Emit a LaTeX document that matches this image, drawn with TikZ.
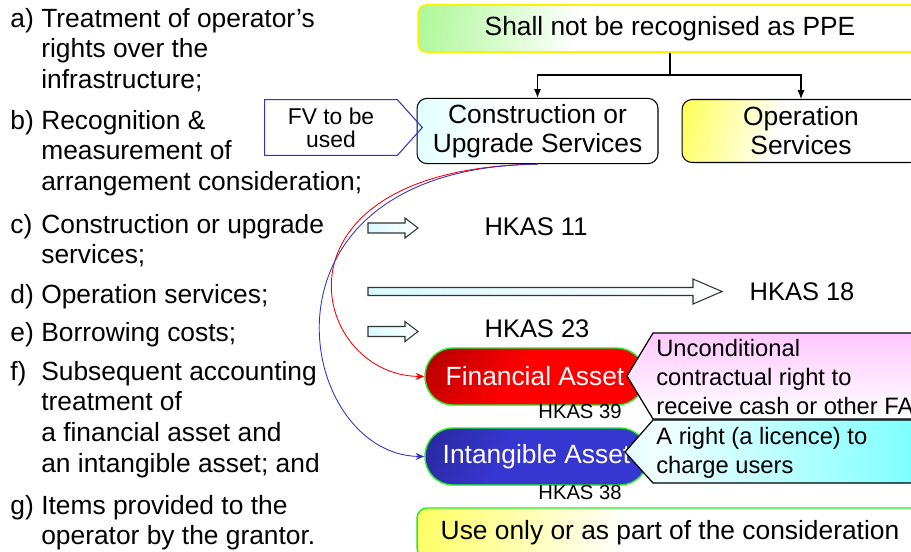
\documentclass[tikz,border=0pt]{standalone}
\usepackage{fontspec}
\setmainfont{Liberation Sans}
\usetikzlibrary{arrows.meta,calc}

\definecolor{ppegreen}{HTML}{4CEE1C}
\definecolor{limeg}{HTML}{22EE22}
\definecolor{fvblue}{HTML}{3333CC}
\definecolor{navyb}{HTML}{1E1E78}
\definecolor{brightb}{HTML}{3636D0}
\definecolor{darkr}{HTML}{8A0000}
\definecolor{pinkc}{HTML}{FFC8FF}
\definecolor{arrcyan}{HTML}{D8FAFF}

% shadings for the boxes
\pgfdeclarehorizontalshading{ppeshade}{100bp}{color(0bp)=(ppegreen); color(12bp)=(ppegreen!70); color(40bp)=(white); color(100bp)=(white)}
\pgfdeclarehorizontalshading{yelshade}{100bp}{color(0bp)=(yellow); color(12bp)=(yellow!85); color(45bp)=(white); color(80bp)=(white); color(100bp)=(yellow)}
\pgfdeclarehorizontalshading{cyanshade}{100bp}{color(0bp)=(cyan!25); color(40bp)=(white); color(80bp)=(white); color(100bp)=(cyan!25)}
\pgfdeclarehorizontalshading{finshade}{100bp}{color(0bp)=(darkr); color(45bp)=(red); color(85bp)=(red); color(100bp)=(darkr)}
\pgfdeclarehorizontalshading{intshade}{100bp}{color(0bp)=(navyb); color(40bp)=(brightb); color(85bp)=(brightb); color(100bp)=(navyb)}
\pgfdeclarehorizontalshading{licshade}{100bp}{color(0bp)=(cyan!30); color(30bp)=(cyan!6); color(100bp)=(cyan!85)}

\newcommand{\listitem}[2]{\begin{tabular}[t]{@{}p{0.62cm}@{}l@{}}#1 & #2\end{tabular}}

\tikzset{
  item/.style={anchor=base west, inner sep=0pt, font=\fontsize{15}{17.6}\selectfont},
  box/.style={draw, line width=0.6pt, rounded corners=0.2cm, align=center, font=\fontsize{15}{16.5}\selectfont},
  pill/.style={draw=limeg, line width=0.8pt, rounded corners=0.56cm, text=white, minimum height=1.14cm, font=\fontsize{15}{16.5}\selectfont},
  callout/.style={draw, line width=0.7pt},
  calltext/.style={anchor=west, align=left, inner sep=0pt, font=\fontsize{13.5}{16.5}\selectfont},
  blockarr/.style={draw=black!80, line width=0.6pt, left color=arrcyan, right color=white},
  hkas/.style={inner sep=0pt, font=\fontsize{14.5}{16}\selectfont},
  hkassmall/.style={inner sep=0pt, font=\fontsize{11.5}{13}\selectfont},
  tree/.style={line width=0.6pt, -{Latex[length=5pt,width=4pt]}},
  link/.style={line width=0.5pt, -{Stealth[length=5pt,width=4pt]}},
}

\begin{document}
\begin{tikzpicture}[x=0.02cm,y=-0.02cm]
\useasboundingbox (0,0) rectangle (911,551);
\clip (0,0) rectangle (911,551);

% List of items
\node[item] (ia) at (10,27) {\listitem{a)}{Treatment of operator’s\\ & rights over the\\ & infrastructure;}};
\node[item] (ib) at (10,129) {\listitem{b)}{Recognition \&\\ & measurement of\\ & arrangement consideration;}};
\node[item] (ic) at (10,233) {\listitem{c)}{Construction or upgrade\\ & services;}};
\node[item] (id) at (10,303) {\listitem{d)}{Operation services;}};
\node[item] (ie) at (10,341) {\listitem{e)}{Borrowing costs;}};
\node[item] (if) at (10,380) {\listitem{f)}{Subsequent accounting\\ & treatment of\\ & a financial asset and\\ & an intangible asset; and}};
\node[item] (ig) at (10,514) {\listitem{g)}{Items provided to the\\ & operator by the grantor.}};

% Top of the tree
\node[box, draw=yellow, line width=0.9pt, rounded corners=0.16cm, shading=ppeshade, shading angle=-8, minimum width=10.08cm, minimum height=0.94cm] (ppe) at (670,28.5) {Shall not be recognised as PPE};
\node[box, shading=cyanshade, shading angle=-10, minimum width=4.82cm, minimum height=1.28cm] (cons) at (537.5,131) {Construction or\\Upgrade Services};
\node[box, shading=yelshade, shading angle=-15, minimum width=4.76cm, minimum height=1.26cm] (ops) at (801,131) {Operation\\Services};

\coordinate (split) at (670,75);
\draw[line width=0.6pt] (ppe.south) -- (split);
\draw[tree] (split) -| (cons.north);
\draw[tree] (split) -| (ops.north);

% FV callout
\node[inner sep=0pt, minimum width=2.64cm, minimum height=1.1cm, align=center, font=\fontsize{13}{13}\selectfont] (fv) at (331,127.5) {FV to be\\used};
\draw[draw=fvblue, line width=0.6pt] (fv.north west) -- (fv.north east) -- ($(fv.east)+(25,0)$) -- (fv.south east) -- (fv.south west) -- cycle;

% Block arrows
\draw[blockarr] (368,223) -- (405,223) -- (405,218) -- (418,228) -- (405,238) -- (405,233) -- (368,233) -- cycle;
\draw[blockarr] (368,287.5) -- (693,287.5) -- (693,279) -- (722,291.5) -- (693,304) -- (693,295.5) -- (368,295.5) -- cycle;
\draw[blockarr] (368,326.5) -- (405,326.5) -- (405,321.5) -- (418,331.5) -- (405,341.5) -- (405,336.5) -- (368,336.5) -- cycle;

\node[hkas] (h11) at (536,227) {HKAS 11};
\node[hkas] (h18) at (802,292) {HKAS 18};
\node[hkas] (h23) at (537,329) {HKAS 23};

% Assets
\node[pill, shading=finshade, shading angle=-35, minimum width=4.4cm] (fin) at (535,376.5) {Financial Asset};
\node[pill, shading=intshade, shading angle=-25, minimum width=4.46cm] (int) at (536.5,456.5) {Intangible Asset};
\node[hkassmall] (h39) at (580,412) {HKAS 39};
\node[hkassmall] (h38) at (580,493) {HKAS 38};

% Callouts
\shade[callout, top color=pinkc, bottom color=white] (627,376) -- (653,333) -- (950,333) -- (950,419) -- (653,419) -- cycle;
\node[calltext] (uncond) at (656,377) {Unconditional\\contractual right to\\receive cash or other FA};
\shade[callout, shading=licshade] (625,452) -- (653,420) -- (950,420) -- (950,483) -- (653,483) -- cycle;
\node[calltext] (licence) at (656,452.5) {A right (a licence) to\\charge users};

% Links to the assets
\draw[link, red] (cons.south) .. controls (260,168) and (308,375) .. (fin.west);
\draw[link, fvblue] (cons.south) .. controls (240,168) and (295,455) .. (int.west);

% Bottom box
\node[box, draw=limeg, line width=0.8pt, shading=yelshade, shading angle=-10, minimum width=10.12cm, minimum height=1cm] (use) at (670,533) {Use only or as part of the consideration};
\end{tikzpicture}
\end{document}
